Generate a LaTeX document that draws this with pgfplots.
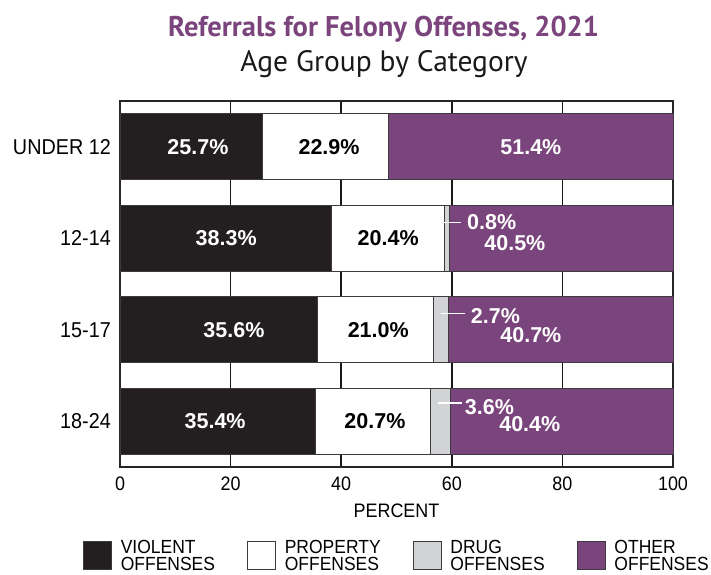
\documentclass[border=0pt]{standalone}
\usepackage{pgfplots}
\pgfplotsset{compat=1.18}
\usepackage{fontspec}
\setmainfont{Liberation Sans}[FakeStretch=0.92]
\newfontfamily\labfont{Liberation Sans}
\newfontfamily\ptsans{PT Sans}
\definecolor{violent}{RGB}{35,31,32}
\definecolor{drug}{RGB}{209,211,212}
\definecolor{other}{RGB}{122,69,124}
\definecolor{titlepurple}{RGB}{123,68,125}
\definecolor{outl}{RGB}{60,58,60}
\begin{document}
\begin{tikzpicture}
\useasboundingbox (0,0) rectangle (711pt,574pt);
\begin{axis}[
  at={(120pt,107pt)}, anchor=south west,
  scale only axis, width=553pt, height=366pt,
  xbar stacked, bar width=66pt,
  xmin=0, xmax=100, ymin=-0.5, ymax=3.5,
  clip=false,
  ytick={0,1,2,3}, yticklabels={18-24,15-17,12-14,UNDER 12},
  xtick={0,20,40,60,80,100},
  xmajorgrids, major grid style={black!90, line width=1.6pt},
  major tick length=0pt,
  axis line style={black!85, line width=1.5pt},
  /pgf/number format/assume math mode=true,
  xticklabel style={font=\fontsize{19.5}{20}\selectfont, inner sep=0pt, anchor=north, yshift=-9.5pt},
  yticklabel style={font=\fontsize{21.5}{22}\selectfont, inner sep=0pt, anchor=east, xshift=-9pt},
  xlabel={PERCENT},
  xlabel style={font=\fontsize{19.5}{20}\selectfont, at={(axis description cs:0.5,-0.1366)}, anchor=base},
  every axis title shift=0pt,
  title={Referrals for Felony Offenses, 2021},
  title style={font=\ptsans\bfseries\fontsize{28.5}{30}\selectfont, text=titlepurple, at={(axis description cs:0.4767,1.175)}, anchor=base},
  legend image code/.code={\draw[#1,draw=outl,line width=0.8pt] (0pt,-14pt) rectangle (28pt,14pt);},
  legend cell align=left,
  legend style={
    at={(axis description cs:-0.0669,-0.199)}, anchor=north west,
    draw=none, fill=none, inner sep=0pt, outer sep=0pt,
    legend columns=4,
    nodes={align=left, inner sep=0pt, font=\fontsize{19}{17}\selectfont},
    /tikz/every odd column/.append style={column sep=9pt},
    /tikz/every even column/.append style={column sep=32pt},
  },
]
\addplot[fill=violent, draw=outl, line width=0.7pt] coordinates {(25.7,3) (38.3,2) (35.6,1) (35.4,0)};
\addplot[fill=white, draw=outl, line width=0.7pt] coordinates {(22.9,3) (20.4,2) (21.0,1) (20.7,0)};
\addplot[fill=drug, draw=outl, line width=0.7pt] coordinates {(0,3) (0.8,2) (2.7,1) (3.6,0)};
\addplot[fill=other, draw=outl, line width=0.7pt] coordinates {(51.4,3) (40.5,2) (40.7,1) (40.3,0)};
\legend{{VIOLENT\\OFFENSES},{PROPERTY\\OFFENSES},{DRUG\\OFFENSES},{OTHER\\OFFENSES}}

\coordinate (a1) at (axis cs:14.1,3);
\coordinate (a2) at (axis cs:37.8,3);
\coordinate (a3) at (axis cs:74.3,3);
\coordinate (b1) at (axis cs:19.2,2);
\coordinate (b2) at (axis cs:48.5,2);
\coordinate (b3) at (axis cs:67.2,2.18);
\coordinate (b4) at (axis cs:71.4,1.95);
\coordinate (c1) at (axis cs:20.6,1);
\coordinate (c2) at (axis cs:46.7,1);
\coordinate (c3) at (axis cs:67.9,1.15);
\coordinate (c4) at (axis cs:74.3,0.94);
\coordinate (d1) at (axis cs:17.2,0);
\coordinate (d2) at (axis cs:46.1,0);
\coordinate (d3) at (axis cs:66.8,0.16);
\coordinate (d4) at (axis cs:74.1,-0.03);
\coordinate (bl1) at (axis cs:58.6,2.17);
\coordinate (bl2) at (axis cs:61.6,2.17);
\coordinate (cl1) at (axis cs:58.0,1.18);
\coordinate (cl2) at (axis cs:62.4,1.18);
\coordinate (dl1) at (axis cs:57.5,0.2);
\coordinate (dl2) at (axis cs:61.8,0.2);
\coordinate (sub) at (rel axis cs:0.4775,1.08);
\end{axis}
\begin{scope}[every node/.style={font=\labfont\bfseries\fontsize{21.5}{22}\selectfont}]
\node[white] at (a1) {25.7\%};
\node[black] at (a2) {22.9\%};
\node[white] at (a3) {51.4\%};
\node[white] at (b1) {38.3\%};
\node[black] at (b2) {20.4\%};
\node[white] at (b3) {0.8\%};
\node[white] at (b4) {40.5\%};
\node[white] at (c1) {35.6\%};
\node[black] at (c2) {21.0\%};
\node[white] at (c3) {2.7\%};
\node[white] at (c4) {40.7\%};
\node[white] at (d1) {35.4\%};
\node[black] at (d2) {20.7\%};
\node[white] at (d3) {3.6\%};
\node[white] at (d4) {40.4\%};
\end{scope}
\draw[white, line width=1.2pt] (bl1) -- (bl2);
\draw[white, line width=1.2pt] (cl1) -- (cl2);
\draw[white, line width=1.2pt] (dl1) -- (dl2);
\node[anchor=base, font=\ptsans\fontsize{29.5}{30}\selectfont, text=black!90] at (sub) {Age Group by Category};
\end{tikzpicture}
\end{document}
